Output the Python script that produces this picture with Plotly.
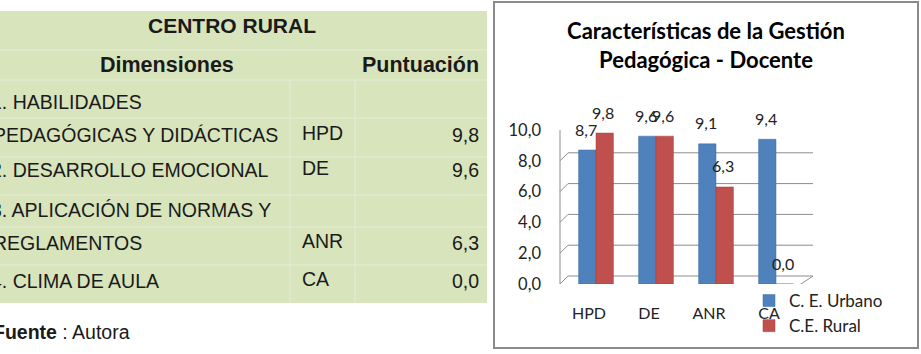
import plotly.graph_objects as go

# ---------------- data ----------------
categories = ["HPD", "DE", "ANR", "CA"]
urbano = [8.7, 9.6, 9.1, 9.4]
rural = [9.8, 9.6, 6.3, 0.0]
series_names = ["C. E. Urbano", "C.E. Rural"]
y_ticks = [0, 2, 4, 6, 8, 10]

table_title = "CENTRO RURAL"
table_headers = ["Dimensiones", "Puntuación"]
table_dim_lines = [["1. HABILIDADES", "PEDAGÓGICAS Y DIDÁCTICAS"],
                   ["2. DESARROLLO EMOCIONAL"],
                   ["3. APLICACIÓN DE NORMAS Y", "REGLAMENTOS"],
                   ["4. CLIMA DE AULA"]]
table_codes = ["HPD", "DE", "ANR", "CA"]
table_scores = [9.8, 9.6, 6.3, 0.0]
source_text = "<b>Fuente</b> : Autora"
chart_title = "Características de la Gestión<br>Pedagógica - Docente"

W, H = 921, 354
def px(x):
    return x / W
def py(y):
    return 1 - y / H

def fmt(v):
    return f"{v:.1f}".replace(".", ",")

BLUE = "#4F81BD"
RED = "#C0504D"
GRID = "#8c8c8c"
GREEN = "#D8E4BC"
SEP = "#E6EDD5"
TFONT = "Liberation Sans"
CFONT = "Lato"
TXT = "#1a1a1a"

fig = go.Figure()
fig.add_trace(go.Bar(x=categories, y=urbano, name=series_names[0],
                     marker=dict(color=BLUE, line=dict(color="#3A6AA5", width=0.5))))
fig.add_trace(go.Bar(x=categories, y=rural, name=series_names[1],
                     marker=dict(color=RED, line=dict(color="#A33E3B", width=0.5))))

shapes = []
annotations = []

# ---------------- table (left) ----------------
row_bounds = [11, 50, 80, 118, 157, 195, 227, 265, 303]
shapes.append(dict(type="rect", xref="paper", yref="paper", x0=px(-2), x1=px(487),
                   y0=py(row_bounds[-1]), y1=py(row_bounds[0]), fillcolor=GREEN,
                   line=dict(width=0), layer="below"))
for yb in row_bounds[1:-1]:
    shapes.append(dict(type="line", xref="paper", yref="paper", x0=px(0), x1=px(487),
                       y0=py(yb), y1=py(yb), line=dict(color=SEP, width=1), layer="below"))
for xb in [290, 355]:
    shapes.append(dict(type="line", xref="paper", yref="paper", x0=px(xb), x1=px(xb),
                       y0=py(80), y1=py(303), line=dict(color=SEP, width=1), layer="below"))

annotations.append(dict(text=f"<b>{table_title}</b>", xref="paper", yref="paper",
                        x=px(232), y=py(26), xanchor="center", yanchor="middle",
                        showarrow=False, font=dict(family=TFONT, size=21, color=TXT)))
annotations.append(dict(text=f"<b>{table_headers[0]}</b>", xref="paper", yref="paper",
                        x=px(167), y=py(65), xanchor="center", yanchor="middle",
                        showarrow=False, font=dict(family=TFONT, size=21.5, color=TXT)))
annotations.append(dict(text=f"<b>{table_headers[1]}</b>", xref="paper", yref="paper",
                        x=px(481), y=py(65), xanchor="right", yanchor="middle",
                        showarrow=False, font=dict(family=TFONT, size=21.5, color=TXT)))

line_y = [[102, 135], [170], [210, 243], [281]]
for lines, ys, code, score in zip(table_dim_lines, line_y, table_codes, table_scores):
    for k, (t, yy) in enumerate(zip(lines, ys)):
        annotations.append(dict(text=t, xref="paper", yref="paper",
                                x=px(-11 if k == 0 else -9), y=py(yy),
                                xanchor="left", yanchor="middle", showarrow=False,
                                font=dict(family=TFONT, size=19.5, color=TXT)))
    yv = ys[-1]
    annotations.append(dict(text=code, xref="paper", yref="paper", x=px(300), y=py(yv - 2),
                            xanchor="left", yanchor="middle", showarrow=False,
                            font=dict(family=TFONT, size=19.5, color=TXT)))
    annotations.append(dict(text=fmt(score), xref="paper", yref="paper", x=px(481), y=py(yv),
                            xanchor="right", yanchor="middle", showarrow=False,
                            font=dict(family=TFONT, size=19.5, color=TXT)))

annotations.append(dict(text=source_text, xref="paper", yref="paper", x=px(-9), y=py(332),
                        xanchor="left", yanchor="middle", showarrow=False,
                        font=dict(family=TFONT, size=19.5, color=TXT)))

# ---------------- chart frame ----------------
shapes.append(dict(type="rect", xref="paper", yref="paper", x0=px(494), x1=px(918),
                   y0=py(348), y1=py(2), line=dict(color="#8a8a8a", width=2),
                   fillcolor="rgba(0,0,0,0)", layer="below"))

# 3D-style walls: back gridlines (offset up/right), side diagonals, floor
for v in y_ticks:
    shapes.append(dict(type="line", xref="paper", yref="y", ysizemode="pixel", yanchor=v,
                       x0=px(568), x1=px(813), y0=8, y1=8,
                       line=dict(color=GRID, width=1), layer="below"))
    shapes.append(dict(type="line", xref="paper", yref="y", ysizemode="pixel", yanchor=v,
                       x0=px(560), x1=px(568), y0=0, y1=8,
                       line=dict(color=GRID, width=1), layer="below"))
shapes.append(dict(type="line", xref="paper", yref="y", x0=px(560), x1=px(560),
                   y0=y_ticks[0], y1=y_ticks[-1], line=dict(color=GRID, width=1), layer="below"))
shapes.append(dict(type="line", xref="paper", yref="y", ysizemode="pixel", yanchor=y_ticks[0],
                   x0=px(558), x1=px(798), y0=-2, y1=-2, line=dict(color=GRID, width=1), layer="below"))
shapes.append(dict(type="line", xref="paper", yref="y", ysizemode="pixel", yanchor=y_ticks[0],
                   x0=px(798), x1=px(813), y0=-2, y1=8, line=dict(color=GRID, width=1), layer="below"))

# data labels
for c, v in zip(categories, urbano):
    annotations.append(dict(text=fmt(v), x=c, y=v, xref="x", yref="y", xshift=-10, yshift=21,
                            showarrow=False, font=dict(family=CFONT, size=16, color="#222")))
for c, v in zip(categories, rural):
    annotations.append(dict(text=fmt(v), x=c, y=v, xref="x", yref="y", xshift=7, yshift=21,
                            showarrow=False, font=dict(family=CFONT, size=16, color="#222")))

fig.update_layout(
    template="none",
    width=W, height=H, autosize=False,
    margin=dict(l=0, r=0, t=0, b=0, pad=0, autoexpand=False),
    paper_bgcolor="white", plot_bgcolor="rgba(0,0,0,0)",
    separators=", ",
    barmode="group", bargap=0.42, bargroupgap=0,
    title=dict(text=chart_title, x=px(706), xanchor="center", xref="paper",
               y=py(39), yanchor="middle", yref="paper", automargin=False,
               font=dict(family=CFONT, size=22, color="#000", weight="bold")),
    xaxis=dict(domain=[px(566), px(806)], range=[-0.5, 3.5], showgrid=False, showline=False,
               zeroline=False, ticks="", ticklabelshift=-7, ticklabelstandoff=18,
               automargin=False, tickfont=dict(family=CFONT, size=16, color="#222")),
    yaxis=dict(domain=[py(284), py(130)], range=[0, 10], tickvals=y_ticks, tickformat=".1f",
               showgrid=False, showline=False, zeroline=False, ticks="", automargin=False,
               ticklabelstandoff=24, tickfont=dict(family=CFONT, size=16.5, color="#222")),
    legend=dict(x=px(749), y=py(283), xanchor="left", yanchor="top",
                bgcolor="rgba(0,0,0,0)", font=dict(family=CFONT, size=17, color="#222"),
                itemclick=False),
    shapes=shapes, annotations=annotations,
    showlegend=True,
)

fig.write_html("out.html")
